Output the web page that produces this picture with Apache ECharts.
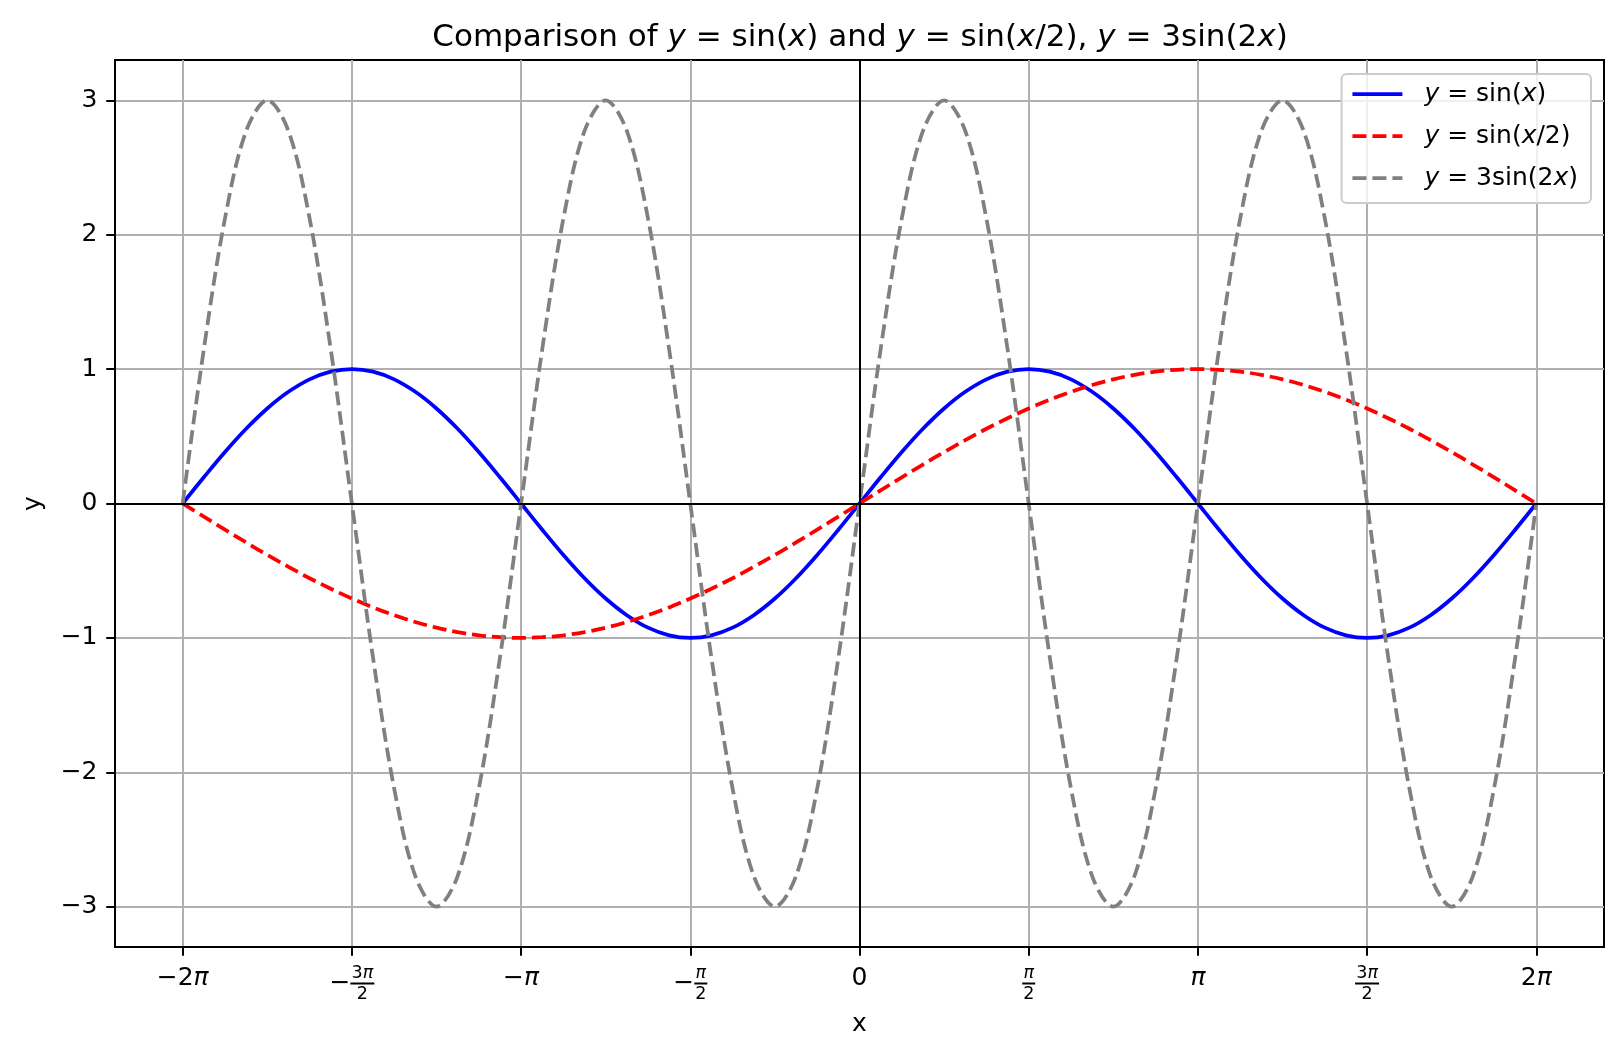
<!DOCTYPE html>
<html>
<head>
<meta charset="utf-8">
<title>Comparison of sine curves</title>
<script src="https://cdn.jsdelivr.net/npm/echarts@6/dist/echarts.min.js"></script>
<style>
  html, body { margin: 0; padding: 0; background: #fff; }
  #chart { width: 1622px; height: 1056px; }
</style>
</head>
<body>
<div id="chart"></div>
<script>
// x positions, in sixteenths of pi (-2pi .. 2pi)
const xSteps = [
  -32, -31, -30, -29, -28, -27, -26, -25, -24, -23, -22, -21, -20, -19, -18, -17,
  -16, -15, -14, -13, -12, -11, -10, -9, -8, -7, -6, -5, -4, -3, -2, -1,
  0, 1, 2, 3, 4, 5, 6, 7, 8, 9, 10, 11, 12, 13, 14, 15,
  16, 17, 18, 19, 20, 21, 22, 23, 24, 25, 26, 27, 28, 29, 30, 31, 32
];

// values at those x positions
const sinX = [
  0, 0.195, 0.383, 0.556, 0.707, 0.831, 0.924, 0.981, 1, 0.981, 0.924, 0.831, 0.707, 0.556, 0.383, 0.195,
  0, -0.195, -0.383, -0.556, -0.707, -0.831, -0.924, -0.981, -1, -0.981, -0.924, -0.831, -0.707, -0.556, -0.383, -0.195,
  0, 0.195, 0.383, 0.556, 0.707, 0.831, 0.924, 0.981, 1, 0.981, 0.924, 0.831, 0.707, 0.556, 0.383, 0.195,
  0, -0.195, -0.383, -0.556, -0.707, -0.831, -0.924, -0.981, -1, -0.981, -0.924, -0.831, -0.707, -0.556, -0.383, -0.195, 0
];
const sinHalfX = [
  0, -0.098, -0.195, -0.290, -0.383, -0.471, -0.556, -0.634, -0.707, -0.773, -0.831, -0.882, -0.924, -0.957, -0.981, -0.995,
  -1, -0.995, -0.981, -0.957, -0.924, -0.882, -0.831, -0.773, -0.707, -0.634, -0.556, -0.471, -0.383, -0.290, -0.195, -0.098,
  0, 0.098, 0.195, 0.290, 0.383, 0.471, 0.556, 0.634, 0.707, 0.773, 0.831, 0.882, 0.924, 0.957, 0.981, 0.995,
  1, 0.995, 0.981, 0.957, 0.924, 0.882, 0.831, 0.773, 0.707, 0.634, 0.556, 0.471, 0.383, 0.290, 0.195, 0.098, 0
];
const threeSin2X = [
  0, 1.148, 2.121, 2.772, 3, 2.772, 2.121, 1.148, 0, -1.148, -2.121, -2.772, -3, -2.772, -2.121, -1.148,
  0, 1.148, 2.121, 2.772, 3, 2.772, 2.121, 1.148, 0, -1.148, -2.121, -2.772, -3, -2.772, -2.121, -1.148,
  0, 1.148, 2.121, 2.772, 3, 2.772, 2.121, 1.148, 0, -1.148, -2.121, -2.772, -3, -2.772, -2.121, -1.148,
  0, 1.148, 2.121, 2.772, 3, 2.772, 2.121, 1.148, 0, -1.148, -2.121, -2.772, -3, -2.772, -2.121, -1.148, 0
];

const seriesNames = ['y = sin(x)', 'y = sin(x/2)', 'y = 3sin(2x)'];
const seriesColors = ['#0000ff', '#ff0000', '#808080'];
const xTickValues = [-32, -24, -16, -8, 0, 8, 16, 24, 32];
const xTickLabels = ['−2π', '−3π/2', '−π', '−π/2', '0', 'π/2', 'π', '3π/2', '2π'];
const yTickValues = [-3, -2, -1, 0, 1, 2, 3];
const yTickLabels = ['−3', '−2', '−1', '0', '1', '2', '3'];
const titleText = 'Comparison of y = sin(x) and y = sin(x/2), y = 3sin(2x)';

const font = 'DejaVu Sans';
const italic = { fontFamily: font, fontStyle: 'italic', fontSize: 25, color: '#000' };

// variables in italics, like matplotlib mathtext
function mathRich(s) {
  return s.replace(/[xy]/g, c => `{i|${c}}`);
}

// pi ticks: italic pi, stacked fractions
function piLabel(label) {
  const k = label.indexOf('/');
  if (k < 0) {
    return label.split('π').map(p => p ? `{t|${p}}` : '').join('{p|π}');
  }
  const neg = label[0] === '−';
  const num = label.slice(neg ? 1 : 0, k);
  const den = label.slice(k + 1);
  const w = num.length > 1 ? 'w' : 'n';
  const sp = neg ? '{s| }' : '';
  const numRich = num.split('π').map(p => p ? `{n${w}|${p}}` : '').join('{np|π}');
  return sp + `{l${w}| }` + numRich + `{l${w}| }` + '\n' +
    (neg ? '{m|−}' : '') + `{b${w}| }` + '\n' +
    sp + `{d${w}|${den}}`;
}

const allValues = [sinX, sinHalfX, threeSin2X];
const series = seriesNames.map((name, i) => ({
  name: name,
  type: 'line',
  data: xSteps.map((x, j) => [x, allValues[i][j]]),
  smooth: 0.34,
  symbol: 'none',
  color: seriesColors[i],
  lineStyle: { color: seriesColors[i], width: 3.75, type: i === 0 ? 'solid' : [14, 6] }
}));
series[0].markLine = {
  silent: true,
  symbol: ['none', 'none'],
  label: { show: false },
  lineStyle: { color: '#000', width: 2, type: 'solid' },
  data: [{ xAxis: 0 }, { yAxis: 0 }]
};

const option = {
  animation: false,
  backgroundColor: '#fff',
  title: {
    text: mathRich(titleText),
    left: 855,
    textAlign: 'center',
    top: 17,
    textStyle: {
      fontFamily: font, fontSize: 31, fontWeight: 'normal', color: '#000',
      rich: { i: Object.assign({}, italic, { fontSize: 31 }) }
    }
  },
  legend: {
    orient: 'vertical',
    right: 31,
    top: 74,
    padding: [5, 13, 10, 9],
    itemWidth: 50,
    itemHeight: 20,
    itemGap: 12,
    itemStyle: { opacity: 0 },
    lineStyle: { width: 3.75 },
    backgroundColor: 'rgba(255,255,255,0.8)',
    borderColor: '#cccccc',
    borderWidth: 2,
    borderRadius: 5,
    formatter: name => mathRich(name),
    textStyle: {
      fontFamily: font, fontSize: 25, color: '#000', lineHeight: 30,
      padding: [0, 0, 0, 17],
      rich: { i: italic }
    }
  },
  grid: {
    left: 115, right: 18, top: 60, bottom: 109,
    show: true, borderColor: '#000', borderWidth: 2
  },
  xAxis: {
    type: 'value',
    min: -35.2,
    max: 35.2,
    name: 'x',
    nameLocation: 'middle',
    nameGap: 65,
    nameTextStyle: { fontFamily: font, fontSize: 25, color: '#000' },
    axisLine: { show: true, onZero: false, lineStyle: { color: '#000', width: 2 } },
    axisTick: { show: true, customValues: xTickValues, length: 8.75, lineStyle: { color: '#000', width: 2 } },
    splitLine: { show: true, lineStyle: { color: '#b0b0b0', width: 2 } },
    axisLabel: {
      customValues: xTickValues,
      margin: 18,
      formatter: v => piLabel(xTickLabels[xTickValues.indexOf(v)] || ''),
      rich: {
        t: { fontFamily: font, fontSize: 25, color: '#000', lineHeight: 26 },
        p: { fontFamily: font, fontStyle: 'italic', fontSize: 25, color: '#000', lineHeight: 26 },
        s: { fontFamily: font, fontSize: 10, width: 21, lineHeight: 16 },
        m: { fontFamily: font, fontSize: 25, color: '#000', width: 21, lineHeight: 5 },
        lw: { fontSize: 2, width: 1, lineHeight: 16 },
        ln: { fontSize: 2, width: 1.5, lineHeight: 16 },
        nw: { fontFamily: font, fontSize: 17.5, color: '#000', lineHeight: 16 },
        nn: { fontFamily: font, fontSize: 17.5, color: '#000', lineHeight: 16 },
        np: { fontFamily: font, fontStyle: 'italic', fontSize: 17.5, color: '#000', lineHeight: 16 },
        dw: { fontFamily: font, fontSize: 17.5, color: '#000', width: 24, lineHeight: 16 },
        dn: { fontFamily: font, fontSize: 17.5, color: '#000', width: 13, lineHeight: 16 },
        bw: { fontSize: 2, width: 24, height: 2, lineHeight: 5, backgroundColor: '#000' },
        bn: { fontSize: 2, width: 13, height: 2, lineHeight: 5, backgroundColor: '#000' }
      }
    }
  },
  yAxis: {
    type: 'value',
    min: -3.3,
    max: 3.3,
    name: 'y',
    nameLocation: 'middle',
    nameGap: 69,
    nameRotate: 90,
    nameTextStyle: { fontFamily: font, fontSize: 25, color: '#000' },
    axisLine: { show: true, onZero: false, lineStyle: { color: '#000', width: 2 } },
    axisTick: { show: true, customValues: yTickValues, length: 8.75, lineStyle: { color: '#000', width: 2 } },
    splitLine: { show: true, lineStyle: { color: '#b0b0b0', width: 2 } },
    axisLabel: {
      customValues: yTickValues,
      margin: 17.5,
      fontFamily: font, fontSize: 25, color: '#000',
      formatter: v => yTickLabels[yTickValues.indexOf(v)] || ''
    }
  },
  series: series
};

const chart = echarts.init(document.getElementById('chart'));
chart.setOption(option);
</script>
</body>
</html>
